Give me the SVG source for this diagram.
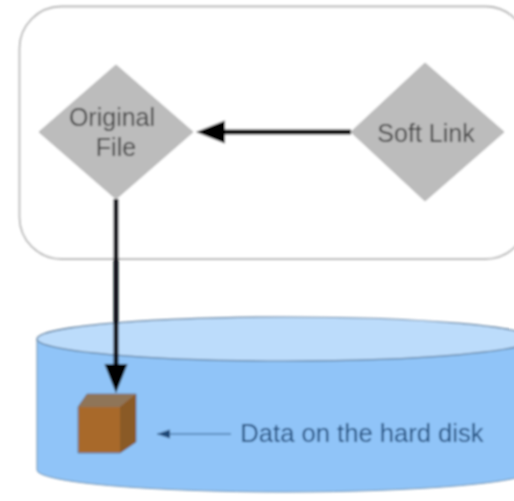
<svg xmlns="http://www.w3.org/2000/svg" width="514" height="501" viewBox="0 0 514 501">
<style>
.lbl{font-family:"Liberation Sans",Arial,sans-serif;font-size:25px;text-anchor:middle}
.dia{fill:#bcbcbc;stroke:#b0b0b0;stroke-width:1}
.grey{fill:#444444}
.blue{fill:#1f4f80}
</style>
<defs>
<filter id="soft" filterUnits="userSpaceOnUse" x="0" y="0" width="514" height="501"><feGaussianBlur stdDeviation="0.8"/></filter>
<marker id="big" markerUnits="userSpaceOnUse" markerWidth="30" markerHeight="24" refX="15" refY="11.5" orient="auto"><path d="M0 0L29 11.5L0 23Z" fill="#000"/></marker>
<marker id="small" markerUnits="userSpaceOnUse" markerWidth="14" markerHeight="10" refX="13" refY="4.5" orient="auto"><path d="M0 0L13 4.5L0 9Z" fill="#1f4a78"/></marker>
</defs>
<rect width="514" height="501" fill="#fff"/>
<g filter="url(#soft)">
<g id="container"><rect x="19.500" y="6.500" width="508" height="252.500" rx="42" ry="42" fill="#fff" stroke="#b8b8b8" stroke-width="1.800"/></g>
<g id="disk">
<path d="M37 339V470A248 22 0 0 0 533 470V339Z" fill="#90c4f8" stroke="#6f8fae" stroke-width="1"/>
<ellipse cx="285" cy="339" rx="248" ry="22" fill="#bcdcfb" stroke="#5f7f9f" stroke-width="1.200"/>
</g>
<g id="original-file">
<polygon class="dia" points="116,65 193,132 116,199 39,132"/>
<text class="lbl grey" x="112" y="126">Original</text>
<text class="lbl grey" x="116" y="156">File</text>
</g>
<g id="soft-link">
<polygon class="dia" points="425,63 504,132 425,201 351,132"/>
<text class="lbl grey" x="426" y="142">Soft Link</text>
</g>
<g id="data-cube">
<polygon points="78,407 87,394 136,394 136,442 120,453 78,453" fill="#a8692b" stroke="#5f7f9f" stroke-width="1"/>
<polygon points="78,407 87,394 136,394 120,407" fill="#8f7458"/>
<polygon points="120,407 136,394 136,442 120,453" fill="#8a5a28"/>
</g>
<g id="connectors" fill="none">
<line x1="351" y1="132" x2="210" y2="132" stroke="#000" stroke-width="5" marker-end="url(#big)"/>
<line x1="116" y1="199" x2="116" y2="379" stroke="#0a0f18" stroke-width="5" marker-end="url(#big)"/>
<line x1="231" y1="434" x2="157" y2="434" stroke="#2f5b88" stroke-width="1.200" marker-end="url(#small)"/>
</g>
<g id="data-label"><text class="lbl blue" x="362" y="442" style="font-size:25.600px">Data on the hard disk</text></g>
</g>
</svg>
